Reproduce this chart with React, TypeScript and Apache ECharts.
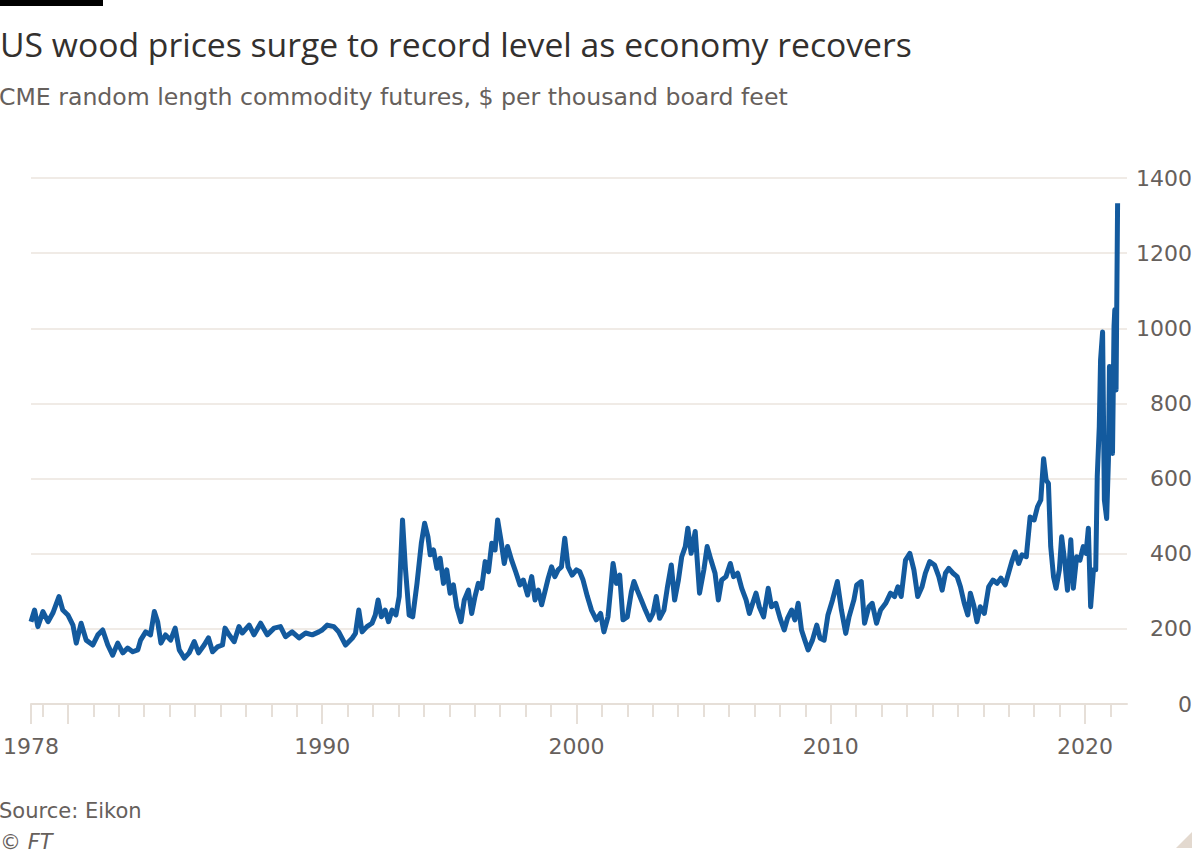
import React, { useEffect, useRef } from "react";
import * as echarts from "echarts";

// Decimal years and CME lumber futures prices ($ per thousand board feet)
const years = [
  1978.55, 1978.69, 1978.82, 1979.02, 1979.22, 1979.41, 1979.65, 1979.8, 1980.0, 1980.2,
  1980.33, 1980.52, 1980.72, 1980.98, 1981.18, 1981.37, 1981.57, 1981.76, 1981.96, 1982.16,
  1982.35, 1982.55, 1982.75, 1982.86, 1983.06, 1983.25, 1983.4, 1983.53, 1983.66, 1983.84,
  1984.04, 1984.22, 1984.38, 1984.58, 1984.77, 1984.97, 1985.14, 1985.36, 1985.53, 1985.69,
  1985.88, 1986.08, 1986.18, 1986.34, 1986.54, 1986.73, 1986.86, 1987.13, 1987.32, 1987.58,
  1987.84, 1988.11, 1988.36, 1988.56, 1988.82, 1989.09, 1989.35, 1989.61, 1989.87,
  1990.0, 1990.2, 1990.46, 1990.65, 1990.92, 1991.18, 1991.31, 1991.44, 1991.57, 1991.76,
  1991.96, 1992.09, 1992.2, 1992.33, 1992.48, 1992.61, 1992.75, 1992.9, 1993.03, 1993.16,
  1993.27, 1993.42, 1993.56, 1993.73, 1993.9, 1994.03, 1994.16, 1994.25, 1994.38, 1994.51,
  1994.64, 1994.77, 1994.9, 1995.03, 1995.16, 1995.29, 1995.46, 1995.59, 1995.75, 1995.88,
  1996.01, 1996.14, 1996.27, 1996.41, 1996.54, 1996.67, 1996.8, 1996.9, 1997.03, 1997.16,
  1997.29, 1997.45, 1997.61, 1997.78, 1997.91, 1998.08, 1998.24, 1998.37, 1998.5, 1998.63,
  1998.76, 1998.89, 1999.02, 1999.15, 1999.28, 1999.41, 1999.54, 1999.67, 1999.83, 2000.0,
  2000.13, 2000.26, 2000.43,
  2000.59, 2000.78, 2000.95, 2001.08, 2001.24, 2001.44, 2001.57, 2001.7, 2001.83, 2002.0,
  2002.16, 2002.26, 2002.39, 2002.55, 2002.71, 2002.88, 2003.01, 2003.14, 2003.27, 2003.44,
  2003.57, 2003.73, 2003.86, 2004.01, 2004.14, 2004.28, 2004.38, 2004.51, 2004.67, 2004.84,
  2005.01, 2005.14, 2005.29, 2005.45, 2005.58, 2005.71, 2005.88, 2006.05, 2006.18, 2006.34,
  2006.5, 2006.67, 2006.8, 2006.93, 2007.06, 2007.19, 2007.36, 2007.54, 2007.67, 2007.84,
  2008.01, 2008.17, 2008.3, 2008.46, 2008.59, 2008.72, 2008.85, 2008.98, 2009.11, 2009.28,
  2009.45, 2009.58, 2009.74, 2009.89, 2010.07, 2010.26, 2010.42, 2010.59,
  2010.72, 2010.91, 2011.02, 2011.2, 2011.33, 2011.5, 2011.63, 2011.8, 2011.96, 2012.16,
  2012.35, 2012.51, 2012.64, 2012.77, 2012.94, 2013.11, 2013.27, 2013.42, 2013.59, 2013.72,
  2013.89, 2014.08, 2014.25, 2014.38, 2014.51, 2014.64, 2014.81, 2014.97, 2015.1, 2015.25,
  2015.39, 2015.49, 2015.62, 2015.75, 2015.88, 2016.04, 2016.21, 2016.38, 2016.54, 2016.69,
  2016.86, 2016.99, 2017.12, 2017.25, 2017.39, 2017.52, 2017.69, 2017.84, 2018.0, 2018.13,
  2018.26, 2018.37, 2018.47, 2018.56, 2018.65, 2018.76, 2018.86, 2018.99, 2019.08, 2019.21,
  2019.31, 2019.44, 2019.54, 2019.67, 2019.8, 2019.93, 2020.04, 2020.13, 2020.22, 2020.33,
  2020.42, 2020.48, 2020.56, 2020.61, 2020.69, 2020.76, 2020.85, 2020.92, 2020.96, 2021.02,
  2021.08, 2021.14, 2021.17, 2021.22, 2021.28,
];

const prices = [
  219, 250, 206, 246, 219, 242, 286, 250, 237, 210,
  162, 215, 170, 157, 184, 197, 157, 130, 162, 136,
  149, 139, 144, 170, 192, 184, 246, 219, 162, 184,
  170, 202, 144, 122, 136, 166, 136, 157, 176, 139,
  152, 157, 202, 184, 166, 206, 189, 210, 184, 215,
  184, 202, 206, 179, 192, 176, 189, 184, 192,
  197, 210, 206, 192, 157, 175, 188, 250, 192, 206,
  215, 237, 277, 232, 250, 219, 250, 237, 286, 490,
  365, 237, 232, 321, 428, 481, 445, 397, 410, 361,
  388, 321, 357, 295, 317, 259, 219, 277, 303, 241,
  286, 321, 308, 379, 352, 428, 410, 490, 437, 374,
  419, 383, 352, 317, 330, 290, 339, 277, 303, 264,
  299, 335, 365, 339, 357, 365, 441, 365, 343, 357,
  352, 330, 286,
  250, 224, 241, 192, 232, 374, 321, 343, 224, 232,
  299, 326, 303, 277, 250, 224, 241, 286, 228, 250,
  308, 370, 277, 330, 392, 419, 468, 401, 459, 295,
  357, 419, 383, 348, 277, 330, 339, 374, 339, 348,
  308, 277, 241, 268, 295, 259, 232, 308, 259, 268,
  228, 197, 228, 250, 224, 268, 197, 170, 144, 170,
  210, 175, 170, 237, 277, 326, 250, 188,
  232, 277, 317, 326, 215, 259, 268, 215, 250, 268,
  295, 286, 312, 286, 383, 401, 357, 286, 312, 348,
  379, 370, 339, 303, 348, 361, 348, 339, 312, 268,
  237, 295, 264, 219, 259, 241, 312, 330, 321, 335,
  317, 348, 379, 405, 374, 397, 392, 498, 490, 525,
  543, 653, 596, 587, 419, 339, 308, 357, 445, 374,
  303, 437, 308, 392, 383, 419, 401, 468, 259, 357,
  357, 605, 738, 915, 990, 543, 494, 650, 898, 827,
  667, 1005, 1049, 836, 1333,
];

const xStart = 1978.55;
const xEnd = 2021.65;
const labelYears = [1978.55, 1990, 2000, 2010, 2020];
const labelTexts = ["1978", "1990", "2000", "2010", "2020"];
const majorTickYears = [1978.55, 1980, 1990, 2000, 2010, 2020];
const minorTickYears = [
  1979, 1981, 1982, 1983, 1984, 1985, 1986, 1987, 1988, 1989,
  1991, 1992, 1993, 1994, 1995, 1996, 1997, 1998, 1999,
  2001, 2002, 2003, 2004, 2005, 2006, 2007, 2008, 2009,
  2011, 2012, 2013, 2014, 2015, 2016, 2017, 2018, 2019, 2021,
];
const yMin = 0;
const yMax = 1400;
const yStep = 200;

const TITLE = "US wood prices surge to record level as economy recovers";
const SUBTITLE = "CME random length commodity futures, $ per thousand board feet";
const SOURCE = "Source: Eikon";
const COPY = "© FT";

const LINE = "#135a9e";
const AXIS = "#e6dfd8";
const GRID = "#f0ebe6";
const MUTED = "#66605c";
const SMALL_FONT = "'DejaVu Sans', sans-serif";

export default function App() {
  const ref = useRef<HTMLDivElement>(null);
  useEffect(() => {
    if (!ref.current) return;
    const chart = echarts.init(ref.current, undefined, { renderer: "svg" });
    const data = years.map((y, i) => [y, prices[i]]);
    chart.setOption({
      animation: false,
      backgroundColor: "#ffffff",
      grid: { left: 28, right: 73, top: 178, bottom: 152, containLabel: false },
      xAxis: [
        {
          type: "value",
          position: "bottom",
          min: xStart,
          max: xEnd,
          axisLine: { show: true, lineStyle: { color: AXIS, width: 2 } },
          axisTick: {
            show: true,
            length: 20,
            customValues: majorTickYears,
            lineStyle: { color: AXIS, width: 2 },
          },
          axisLabel: {
            show: true,
            customValues: labelYears,
            margin: 31,
            fontSize: 22,
            fontFamily: SMALL_FONT,
            color: MUTED,
            formatter: (v: number) => {
              const idx = labelYears.findIndex((l) => Math.abs(l - v) < 0.01);
              return idx >= 0 ? labelTexts[idx] : "";
            },
          },
          splitLine: { show: false },
        },
        {
          type: "value",
          position: "bottom",
          min: xStart,
          max: xEnd,
          axisLine: { show: false },
          axisTick: {
            show: true,
            length: 13,
            customValues: minorTickYears,
            lineStyle: { color: AXIS, width: 2 },
          },
          axisLabel: { show: false },
          splitLine: { show: false },
        },
      ],
      yAxis: {
        type: "value",
        position: "right",
        min: yMin,
        max: yMax,
        interval: yStep,
        axisLine: { show: false },
        axisTick: { show: false },
        axisLabel: {
          align: "right",
          margin: 65,
          fontSize: 22,
          fontFamily: SMALL_FONT,
          color: MUTED,
          formatter: (v: number) => String(v),
        },
        splitLine: { show: true, lineStyle: { color: GRID, width: 2 } },
      },
      series: [
        {
          type: "line",
          xAxisIndex: 0,
          data,
          showSymbol: false,
          symbol: "none",
          lineStyle: { color: LINE, width: 5, join: "round" },
          z: 5,
        },
      ],
      graphic: [
        { type: "rect", shape: { x: 0, y: 0, width: 103, height: 6 }, style: { fill: "#000000" } },
        {
          type: "text",
          x: 0,
          y: 44,
          style: {
            text: TITLE,
            fontSize: 33.7,
            fontFamily: "'Open Sans', sans-serif",
            fill: "#33302e",
            verticalAlign: "middle",
          },
        },
        {
          type: "text",
          x: -1,
          y: 97,
          style: {
            text: SUBTITLE,
            fontSize: 23.6,
            fontFamily: SMALL_FONT,
            fill: MUTED,
            verticalAlign: "middle",
          },
        },
        {
          type: "text",
          x: -1,
          y: 811,
          style: {
            text: SOURCE,
            fontSize: 21,
            fontFamily: SMALL_FONT,
            fill: MUTED,
            verticalAlign: "middle",
          },
        },
        {
          type: "text",
          x: 0,
          y: 842,
          style: {
            text: COPY,
            fontSize: 21,
            fontStyle: "italic",
            fontFamily: SMALL_FONT,
            fill: MUTED,
            verticalAlign: "middle",
          },
        },
        {
          type: "polygon",
          shape: { points: [[1192, 832], [1192, 848], [1176, 848]] },
          style: { fill: "#e3d9cf" },
        },
      ],
    });
    return () => chart.dispose();
  }, []);
  return (
    <div
      ref={ref}
      style={{ position: "fixed", left: 0, top: 0, width: 1200, height: 856, background: "#fff" }}
    />
  );
}
